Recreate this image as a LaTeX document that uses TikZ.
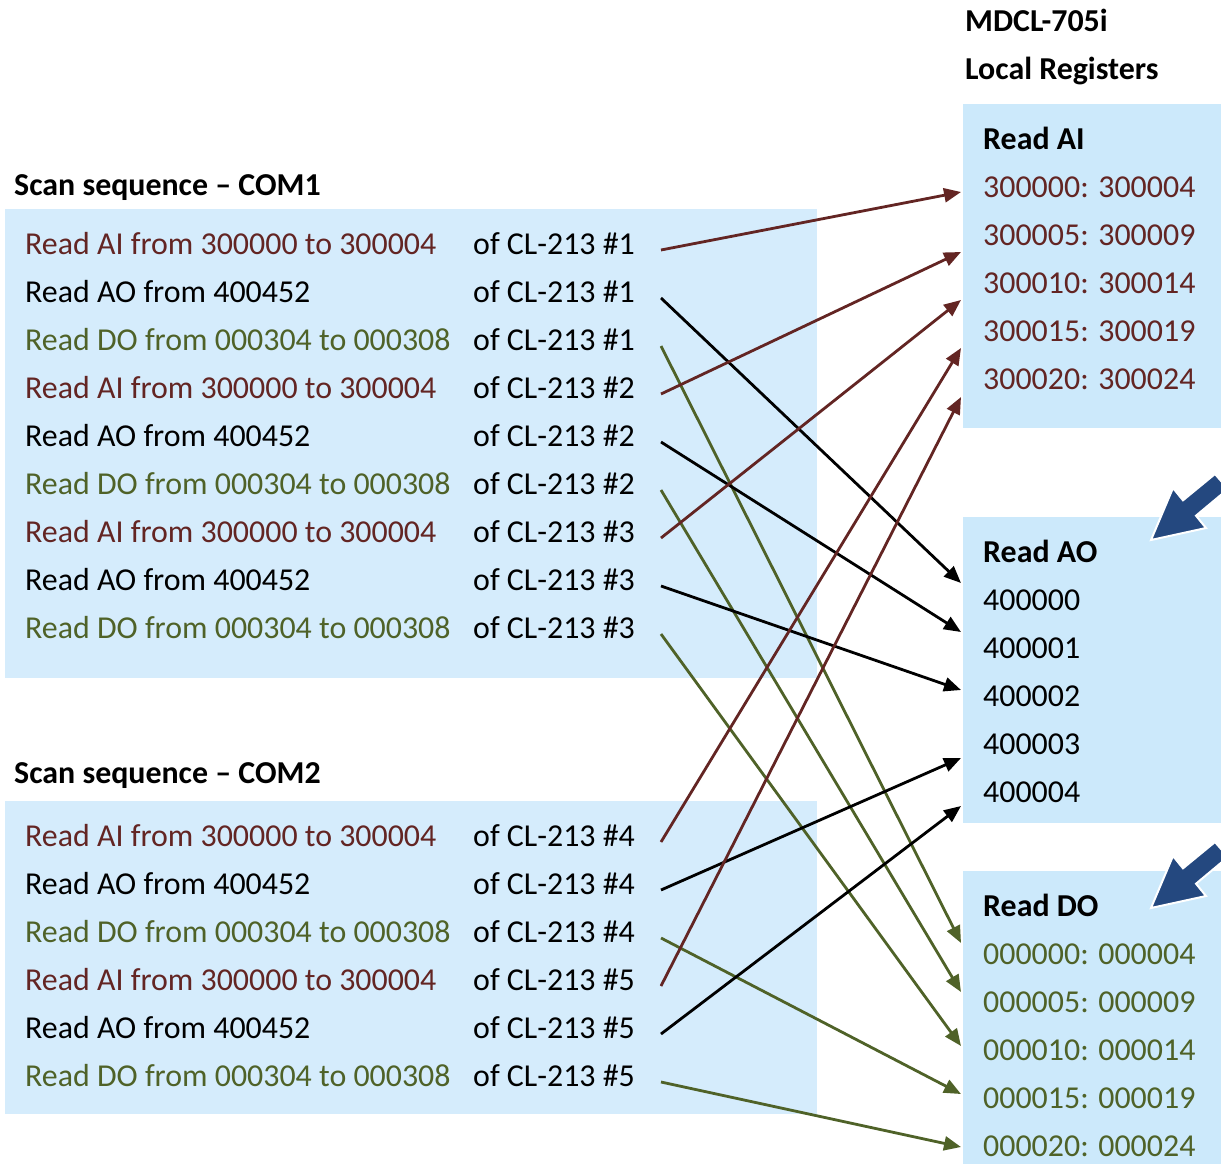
\documentclass[tikz,border=0pt]{standalone}
\usepackage{fontspec}
\setmainfont{Carlito}
\usetikzlibrary{arrows.meta}
\definecolor{cred}{HTML}{632523}
\definecolor{cgreen}{HTML}{4F6228}
\definecolor{lbox}{HTML}{D5ECFC}
\definecolor{rbox}{HTML}{CCE9FB}
\definecolor{barrow}{HTML}{24487F}
\begin{document}
\begin{tikzpicture}[x=1pt,y=-1pt,
 txt/.style={anchor=base west, inner sep=0, font=\fontsize{31.9}{36}\selectfont},
 hdr/.style={anchor=base west, inner sep=0, font=\fontsize{31.9}{36}\selectfont\bfseries},
 conn/.style={line width=2.8pt, -{Triangle[length=17pt,width=14pt]}},
 blockarrow/.style={fill=barrow, draw=white, line width=2pt, line join=miter}
]
\useasboundingbox (0,0) rectangle (1221,1164);
% boxes
\fill[lbox] (5,209) rectangle (817,678);
\fill[lbox] (5,801) rectangle (817,1114);
\fill[rbox] (963,104) rectangle (1221,428);
\fill[rbox] (963,517) rectangle (1221,823);
\fill[rbox] (963,871) rectangle (1221,1164);
% headers
\node[hdr] (h1) at (965,32) {MDCL-705i};
\node[hdr] (h2) at (965,80) {Local Registers};
\node[hdr] (t1) at (14,195) {Scan sequence – COM1};
\node[hdr] (t2) at (14,783) {Scan sequence – COM2};
% left rows
\foreach \y/\c/\t/\d [count=\i] in {
 254/cred/{Read AI from 300000 to 300004}/1,
 302/black/{Read AO from 400452}/1,
 350/cgreen/{Read DO from 000304 to 000308}/1,
 398/cred/{Read AI from 300000 to 300004}/2,
 446/black/{Read AO from 400452}/2,
 494/cgreen/{Read DO from 000304 to 000308}/2,
 542/cred/{Read AI from 300000 to 300004}/3,
 590/black/{Read AO from 400452}/3,
 638/cgreen/{Read DO from 000304 to 000308}/3,
 846/cred/{Read AI from 300000 to 300004}/4,
 894/black/{Read AO from 400452}/4,
 942/cgreen/{Read DO from 000304 to 000308}/4,
 990/cred/{Read AI from 300000 to 300004}/5,
 1038/black/{Read AO from 400452}/5,
 1086/cgreen/{Read DO from 000304 to 000308}/5}{
 \node[txt,text=\c] (L\i) at (25,\y) {\t};
 \node[txt] (O\i) at (473,\y) {of CL-213 \#\d};
 \coordinate (S\i) at (661,\y-4);
}
% right registers
\node[hdr] (rai) at (983,149) {Read AI};
\node[hdr] (rao) at (983,562) {Read AO};
\node[hdr] (rdo) at (983,916) {Read DO};
\foreach \y/\t [count=\i] in {197/{300000: 300004},245/{300005: 300009},293/{300010: 300014},341/{300015: 300019},389/{300020: 300024}}
 \node[txt,text=cred] (ai\i) at (983,\y) {\t};
\foreach \y/\t [count=\i] in {610/400000,658/400001,706/400002,754/400003,802/400004}
 \node[txt] (ao\i) at (983,\y) {\t};
\foreach \y/\t [count=\i] in {964/{000000: 000004},1012/{000005: 000009},1060/{000010: 000014},1108/{000015: 000019},1156/{000020: 000024}}
 \node[txt,text=cgreen] (do\i) at (983,\y) {\t};
% target coordinates
\coordinate (Tai1) at (961,192);
\coordinate (Tai2) at (961,252);
\coordinate (Tai3) at (961,300);
\coordinate (Tai4) at (961,348);
\coordinate (Tai5) at (961,397);
\coordinate (Tao1) at (961,583);
\coordinate (Tao2) at (961,632);
\coordinate (Tao3) at (961,690);
\coordinate (Tao4) at (961,758);
\coordinate (Tao5) at (961,806);
\coordinate (Tdo1) at (961,943);
\coordinate (Tdo2) at (961,992);
\coordinate (Tdo3) at (961,1046);
\coordinate (Tdo4) at (961,1094);
\coordinate (Tdo5) at (961,1147);
% connectors
\draw[conn,cgreen] (S3) -- (Tdo1);
\draw[conn,cgreen] (S6) -- (Tdo2);
\draw[conn,cgreen] (S9) -- (Tdo3);
\draw[conn,cgreen] (S12) -- (Tdo4);
\draw[conn,cgreen] (S15) -- (Tdo5);
\draw[conn,black] (S2) -- (Tao1);
\draw[conn,black] (S5) -- (Tao2);
\draw[conn,black] (S8) -- (Tao3);
\draw[conn,black] (S11) -- (Tao4);
\draw[conn,black] (S14) -- (Tao5);
\draw[conn,cred] (S1) -- (Tai1);
\draw[conn,cred] (S4) -- (Tai2);
\draw[conn,cred] (S7) -- (Tai3);
\draw[conn,cred] (S10) -- (Tai4);
\draw[conn,cred] (S13) -- (Tai5);
% block arrows
\draw[blockarrow] (1151,540) -- (1206,528) -- (1196,515.7) -- (1228,489) -- (1215,474) -- (1183,500.3) -- (1173,488) -- cycle;
\begin{scope}[shift={(0,368)}]
\draw[blockarrow] (1151,540) -- (1206,528) -- (1196,515.7) -- (1228,489) -- (1215,474) -- (1183,500.3) -- (1173,488) -- cycle;
\end{scope}
\end{tikzpicture}
\end{document}
